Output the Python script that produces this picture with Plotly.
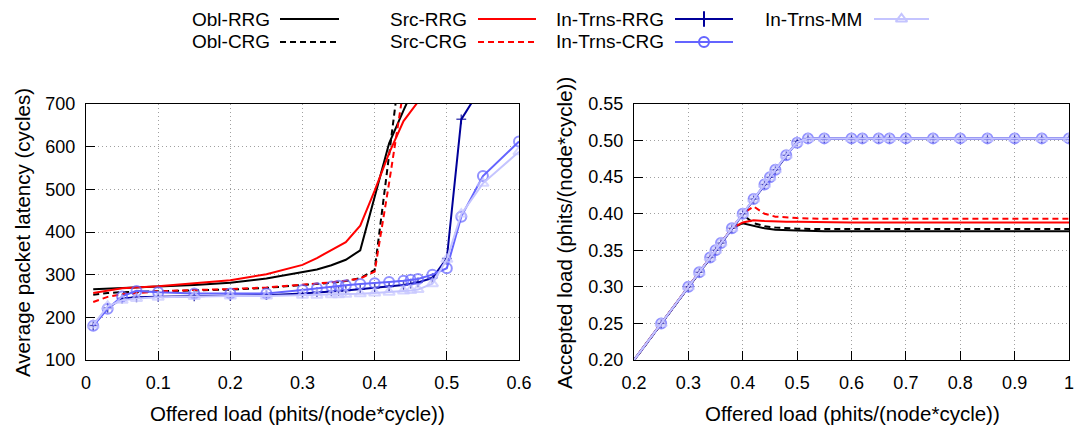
import plotly.graph_objects as go

FONT = "Liberation Sans"

# ---- offered-load grid of the in-transit runs ----
load_it = [0.01, 0.03, 0.05, 0.07, 0.1, 0.15, 0.2, 0.25, 0.3, 0.32,
           0.34, 0.35, 0.36, 0.38, 0.4, 0.42, 0.44, 0.45, 0.46, 0.48,
           0.5, 0.52, 0.55, 0.6, 0.62, 0.65, 0.67, 0.7, 0.75, 0.8,
           0.85, 0.9, 0.95, 1.0]
# latency is only reported up to 0.6
lat_it_rrg = [181, 222, 244, 247, 248, 249, 250, 252, 256, 259,
              261, 262, 263, 266, 269, 272, 276, 279, 282, 292,
              338, 664, 745, 860]
lat_it_crg = [180, 220, 249, 262, 259, 256, 256, 256, 264, 268,
              272, 274, 275, 278, 280, 283, 286, 288, 290, 300,
              315, 436, 531, 612]
lat_it_mm = [182, 226, 240, 244, 247, 249, 250, 250, 252, 252,
             253, 253, 254, 255, 257, 259, 262, 263, 265, 279,
             336, 442, 514, 588]
acc_it_rrg = [0.01, 0.03, 0.05, 0.07, 0.1, 0.15, 0.1998, 0.25, 0.3, 0.32,
              0.34, 0.35, 0.36, 0.38, 0.4, 0.42, 0.44, 0.45, 0.46, 0.48,
              0.499, 0.503, 0.503, 0.503, 0.503, 0.503, 0.503, 0.503, 0.503, 0.503,
              0.503, 0.503, 0.503, 0.503]
acc_it_crg = [0.01, 0.03, 0.05, 0.07, 0.1, 0.15, 0.1998, 0.25, 0.3, 0.32,
              0.34, 0.35, 0.36, 0.38, 0.4, 0.42, 0.44, 0.45, 0.46, 0.48,
              0.497, 0.503, 0.503, 0.503, 0.503, 0.503, 0.503, 0.503, 0.503, 0.503,
              0.503, 0.503, 0.503, 0.503]
acc_it_mm = [0.01, 0.03, 0.05, 0.07, 0.1, 0.15, 0.1998, 0.25, 0.3, 0.32,
             0.34, 0.35, 0.36, 0.38, 0.4, 0.42, 0.44, 0.45, 0.46, 0.48,
             0.498, 0.503, 0.503, 0.503, 0.503, 0.503, 0.503, 0.503, 0.503, 0.503,
             0.503, 0.503, 0.503, 0.503]

# ---- offered-load grid of the oblivious / source-routed runs ----
load_os = [0.01, 0.03, 0.05, 0.1, 0.15, 0.2, 0.25, 0.3, 0.32, 0.34,
           0.36, 0.38, 0.4, 0.42, 0.44, 0.46, 0.48, 0.5, 0.55, 0.6,
           0.7, 0.8, 0.9, 1.0]
# latency up to 0.46 (beyond that the curves leave the plotted range)
lat_obl_rrg = [266, 267, 268, 272, 276, 281, 291, 305, 312, 322,
               335, 357, 481, 608, 685, 760]
lat_obl_crg = [253, 257, 259, 261, 263, 265, 269, 275, 278, 281,
               285, 292, 311, 580, 850, 1000]
lat_src_rrg = [257, 263, 268, 273, 280, 287, 301, 323, 339, 358,
               376, 415, 497, 585, 660, 705]
lat_src_crg = [236, 248, 254, 261, 264, 266, 270, 276, 279, 282,
               286, 291, 307, 515, 735, 900]
acc_obl_rrg = [0.01, 0.03, 0.05, 0.1, 0.15, 0.2, 0.25, 0.3, 0.32, 0.34,
               0.36, 0.38, 0.387, 0.383, 0.380, 0.378, 0.377, 0.377, 0.376, 0.376,
               0.376, 0.376, 0.376, 0.376]
acc_obl_crg = [0.01, 0.03, 0.05, 0.1, 0.15, 0.2, 0.25, 0.3, 0.32, 0.34,
               0.36, 0.38, 0.399, 0.387, 0.383, 0.381, 0.380, 0.3795, 0.379, 0.379,
               0.379, 0.379, 0.379, 0.379]
acc_src_rrg = [0.01, 0.03, 0.05, 0.1, 0.15, 0.2, 0.25, 0.3, 0.32, 0.34,
               0.36, 0.38, 0.388, 0.391, 0.390, 0.389, 0.389, 0.389, 0.388, 0.388,
               0.388, 0.388, 0.388, 0.388]
acc_src_crg = [0.01, 0.03, 0.05, 0.1, 0.15, 0.2, 0.25, 0.3, 0.32, 0.34,
               0.36, 0.38, 0.4, 0.41, 0.40, 0.396, 0.395, 0.394, 0.393, 0.393,
               0.393, 0.393, 0.393, 0.393]

# axis ranges and ticks
lat_x_range, lat_y_range = [0, 0.6], [100, 700]
acc_x_range, acc_y_range = [0.2, 1.0], [0.2, 0.55]

W, H = 1080, 432
BLACK, RED = "#000000", "#ff0000"
NAVY, MID_BLUE, LAVENDER = "#00009a", "#6464ff", "#c4c4ff"
DASH = "6px,4px"


def marker_sizes(xs, ys, xr, yr, size):
    """Hide markers of points that fall on or outside the plotted box."""
    out = []
    for x, y in zip(xs, ys):
        inside = xr[0] < x <= xr[1] and yr[0] < y <= yr[1]
        out.append(size if inside else 0)
    return out


series = [
    # name, x, latency, accepted, colour, dash, symbol, marker size, marker line
    ("Obl-RRG", load_os, lat_obl_rrg, acc_obl_rrg, BLACK, "solid", None, 0, 0),
    ("Obl-CRG", load_os, lat_obl_crg, acc_obl_crg, BLACK, DASH, None, 0, 0),
    ("Src-RRG", load_os, lat_src_rrg, acc_src_rrg, RED, "solid", None, 0, 0),
    ("Src-CRG", load_os, lat_src_crg, acc_src_crg, RED, DASH, None, 0, 0),
    ("In-Trns-RRG", load_it, lat_it_rrg, acc_it_rrg, NAVY, "solid", "cross-thin", 7, 1.5),
    ("In-Trns-CRG", load_it, lat_it_crg, acc_it_crg, MID_BLUE, "solid", "circle-open", 10, 2),
    ("In-Trns-MM", load_it, lat_it_mm, acc_it_mm, LAVENDER, "solid", "triangle-up-open", 10, 2),
]

fig = go.Figure()

for name, xs, lat, acc, col, dash, sym, msize, mlw in series:
    for xa, ya, ys, xr, yr in (("x", "y", lat, lat_x_range, lat_y_range),
                               ("x2", "y2", acc, acc_x_range, acc_y_range)):
        xv = xs[:len(ys)]
        kw = dict(x=xv, y=ys, xaxis=xa, yaxis=ya, name=name, showlegend=False,
                  line=dict(color=col, width=2, dash=dash))
        if sym:
            kw["mode"] = "lines+markers"
            kw["marker"] = dict(symbol=sym, size=marker_sizes(xv, ys, xr, yr, msize),
                                color=col, line=dict(color=col, width=mlw))
        else:
            kw["mode"] = "lines"
        fig.add_trace(go.Scatter(**kw))

# ---- key drawn above the panels: label, then a line sample ----
key_rows = [19, 42]
key_cols = [(272, 280, 339), (469, 478, 536), (666, 675, 733), (864, 874, 929)]
key_layout = [(0, 0), (0, 1), (1, 0), (1, 1), (2, 0), (2, 1), (3, 0)]
key_marker = {"cross-thin": (11, 2), "circle-open": (10, 2), "triangle-up-open": (10, 2)}
annotations = []
for (name, xs, lat, acc, col, dash, sym, msize, mlw), (ci, ri) in zip(series, key_layout):
    tx, x0, x1 = key_cols[ci]
    yy = key_rows[ri]
    annotations.append(dict(text=name, x=tx / W, y=1 - yy / H, xref="paper", yref="paper",
                            xanchor="right", yanchor="middle", showarrow=False,
                            font=dict(family=FONT, size=19, color="#000000")))
    fig.add_trace(go.Scatter(x=[x0, x1], y=[yy, yy], xaxis="x3", yaxis="y3", mode="lines",
                             line=dict(color=col, width=2, dash=dash), showlegend=False,
                             hoverinfo="skip"))
    if sym:
        ks, kl = key_marker[sym]
        fig.add_trace(go.Scatter(x=[(x0 + x1) / 2], y=[yy], xaxis="x3", yaxis="y3",
                                 mode="markers", showlegend=False, hoverinfo="skip",
                                 marker=dict(symbol=sym, size=ks, color=col,
                                             line=dict(color=col, width=kl))))

# axis titles
title_font = dict(family=FONT, size=20.5, color="#000000")
annotations += [
    dict(text="Offered load (phits/(node*cycle))", x=297 / W, y=1 - 413 / H,
         xref="paper", yref="paper", xanchor="center", yanchor="middle",
         showarrow=False, font=title_font),
    dict(text="Offered load (phits/(node*cycle))", x=852 / W, y=1 - 413 / H,
         xref="paper", yref="paper", xanchor="center", yanchor="middle",
         showarrow=False, font=title_font),
    dict(text="Average packet latency (cycles)", x=22 / W, y=1 - 233 / H,
         xref="paper", yref="paper", xanchor="center", yanchor="middle",
         textangle=-90, showarrow=False, font=title_font),
    dict(text="Accepted load (phits/(node*cycle))", x=564 / W, y=1 - 233 / H,
         xref="paper", yref="paper", xanchor="center", yanchor="middle",
         textangle=-90, showarrow=False, font=title_font),
]

axis_common = dict(showline=True, linecolor="#000000", linewidth=1, mirror=True,
                   ticks="inside", ticklen=9, tickwidth=1, tickcolor="#000000",
                   showgrid=True, gridcolor="#a0a0a0", gridwidth=1, griddash="1px,3px",
                   zeroline=False, tickfont=dict(family=FONT, size=18, color="#000000"),
                   fixedrange=True, automargin=False)

y_dom = [(H - 360) / H, (H - 104) / H]
fig.update_layout(
    width=W, height=H, autosize=False,
    margin=dict(l=0, r=0, t=0, b=0, pad=0, autoexpand=False),
    paper_bgcolor="white", plot_bgcolor="rgba(0,0,0,0)",
    showlegend=False,
    xaxis=dict(domain=[86 / W, 519 / W], range=lat_x_range, tickvals=[0, 0.1, 0.2, 0.3, 0.4, 0.5, 0.6],
               anchor="y", ticklabelstandoff=6, **axis_common),
    yaxis=dict(domain=y_dom, range=lat_y_range, tickvals=[100, 200, 300, 400, 500, 600, 700],
               anchor="x", ticklabelstandoff=6, **axis_common),
    xaxis2=dict(domain=[634 / W, 1069 / W], range=acc_x_range,
                tickvals=[0.2, 0.3, 0.4, 0.5, 0.6, 0.7, 0.8, 0.9, 1.0],
                anchor="y2", ticklabelstandoff=6, **axis_common),
    yaxis2=dict(domain=y_dom, range=acc_y_range,
                tickvals=[0.2, 0.25, 0.3, 0.35, 0.4, 0.45, 0.5, 0.55], tickformat=".2f",
                anchor="x2", ticklabelstandoff=6, **axis_common),
    xaxis3=dict(domain=[0, 1], range=[0, W], visible=False, fixedrange=True, anchor="y3",
                automargin=False),
    yaxis3=dict(domain=[0, 1], range=[H, 0], visible=False, fixedrange=True, anchor="x3",
                automargin=False),
    annotations=annotations,
)

fig.write_html("out.html")
